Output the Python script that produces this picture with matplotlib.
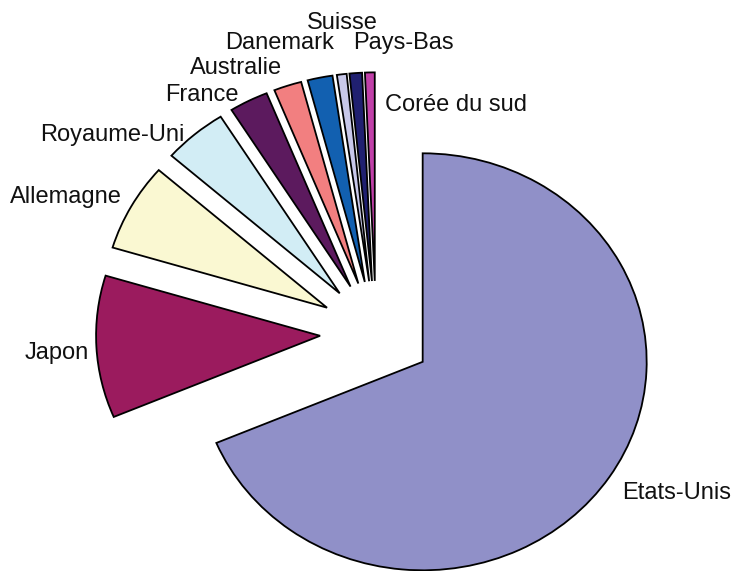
import matplotlib.pyplot as plt

# share of each country (percent)
countries = ['Etats-Unis', 'Japon', 'Allemagne', 'Royaume-Uni', 'France',
             'Australie', 'Danemark', 'Suisse', 'Pays-Bas', 'Corée du sud']
shares = [68.5, 11.0, 6.8, 4.6, 2.8, 2.0, 1.8, 0.7, 0.9, 0.7]
colors = ['#9090C8', '#9B1B5E', '#FAF8D2', '#D2EDF5', '#5C1A5E',
          '#F27F80', '#1260B0', '#C8C8EA', '#202070', '#C040A8']

# label anchor points in figure pixels (left edge, vertical centre)
label_px = [(622, 493), (25, 353), (10, 197), (40, 135), (165, 95),
            (190, 68), (225, 43), (307, 23), (353, 43), (385, 105)]

W, H = 734, 571
fig = plt.figure(figsize=(W / 100, H / 100), dpi=100)
ax = fig.add_axes([0, 0, 1, 1])

cx, cy, rx, ry = 376, 333, 224, 208.5
wedges, texts = ax.pie(shares, labels=countries, colors=colors, startangle=90,
                       counterclock=False, explode=[0.25] * len(shares),
                       wedgeprops=dict(edgecolor='black', linewidth=1.3))

for t, (px, py) in zip(texts, label_px):
    t.set_position(((px - cx) / rx, (cy - py) / ry))
    t.set_ha('left')
    t.set_va('center')
    t.set_fontsize(17)
    t.set_family('Liberation Sans')
    t.set_color('#111111')

ax.set_aspect('auto')
ax.set_xlim((0 - cx) / rx, (W - cx) / rx)
ax.set_ylim((cy - H) / ry, cy / ry)
ax.axis('off')

fig.savefig('out.png', dpi=100, facecolor='white')
